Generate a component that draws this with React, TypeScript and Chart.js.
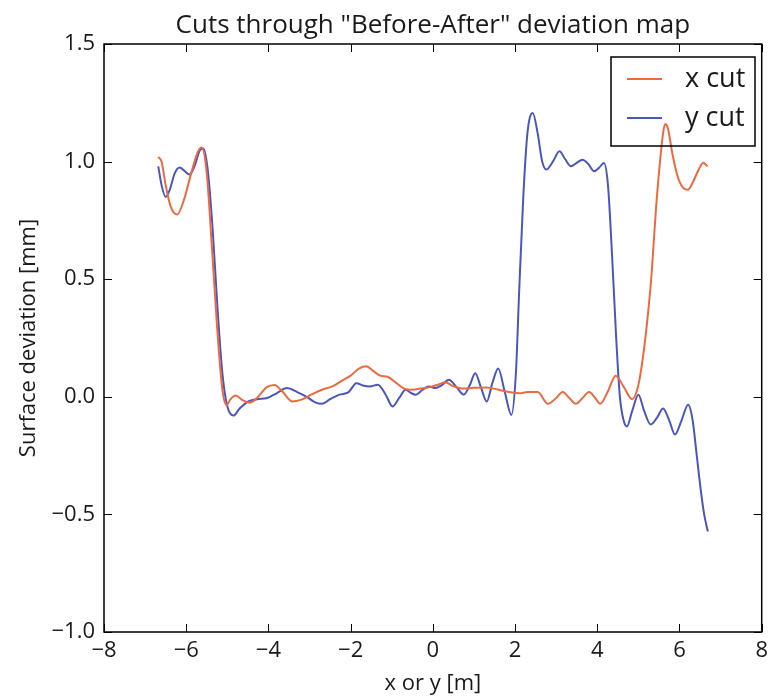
import { useEffect, useRef } from "react";
import { Chart, registerables } from "chart.js";

Chart.register(...registerables);

// Cut positions (m) and surface deviation (mm) along the x cut
const xCutPos = [
  -6.68, -6.6, -6.5, -6.38, -6.22, -6.05, -5.88, -5.72, -5.62, -5.5, -5.38, -5.25, -5.12, -5.02,
  -4.92, -4.8, -4.62, -4.45, -4.25, -4.05, -3.85, -3.65, -3.42, -3.2, -2.95, -2.7, -2.43, -2.2,
  -2.0, -1.8, -1.62, -1.45, -1.28, -1.1, -0.9, -0.7, -0.5, -0.3, -0.1, 0.1, 0.3, 0.5, 0.75, 1.0,
  1.3, 1.6, 1.85, 2.1, 2.3, 2.55, 2.8, 3.0, 3.16, 3.32, 3.48, 3.64, 3.8, 3.95, 4.07, 4.25, 4.45,
  4.65, 4.85, 5.0, 5.12, 5.22, 5.32, 5.42, 5.52, 5.6, 5.65, 5.72, 5.82, 5.95, 6.08, 6.2, 6.32,
  6.45, 6.58, 6.68,
];
const xCutDev = [
  1.02, 1.0, 0.9, 0.81, 0.775, 0.84, 0.95, 1.04, 1.06, 0.95, 0.65, 0.3, 0.03, -0.035,
  -0.01, 0.005, -0.015, -0.025, 0.0, 0.04, 0.05, 0.02, -0.02, -0.012, 0.01, 0.03, 0.045, 0.07,
  0.09, 0.12, 0.13, 0.11, 0.09, 0.085, 0.06, 0.035, 0.03, 0.035, 0.04, 0.05, 0.062, 0.045, 0.035, 0.038,
  0.04, 0.03, 0.02, 0.015, 0.02, 0.02, -0.03, -0.005, 0.02, -0.005, -0.03, -0.005, 0.02, -0.005, -0.03, 0.02, 0.09,
  0.04, -0.01, 0.05, 0.18, 0.33, 0.52, 0.78, 0.99, 1.12, 1.16, 1.14, 1.04, 0.94, 0.89, 0.88, 0.91,
  0.96, 0.995, 0.98,
];

// Cut positions (m) and surface deviation (mm) along the y cut
const yCutPos = [
  -6.68, -6.6, -6.5, -6.4, -6.28, -6.16, -6.04, -5.92, -5.8, -5.66, -5.58, -5.48, -5.36, -5.24,
  -5.12, -5.0, -4.85, -4.7, -4.5, -4.28, -4.03, -3.8, -3.55, -3.3, -3.07, -2.85, -2.7, -2.5,
  -2.27, -2.05, -1.86, -1.7, -1.54, -1.34, -1.15, -0.98, -0.82, -0.66, -0.52, -0.42, -0.25, -0.1,
  0.06, 0.22, 0.39, 0.58, 0.75, 0.9, 1.03, 1.17, 1.31, 1.45, 1.59, 1.75, 1.91, 2.02, 2.1, 2.2,
  2.3, 2.43, 2.55, 2.66, 2.76, 2.92, 3.08, 3.22, 3.36, 3.5, 3.64, 3.78, 3.92, 4.05, 4.16, 4.26,
  4.36, 4.46, 4.55, 4.64, 4.72, 4.85, 5.0, 5.14, 5.3, 5.45, 5.6, 5.75, 5.89, 6.05, 6.21, 6.32,
  6.42, 6.52, 6.6, 6.69,
];
const yCutDev = [
  0.98, 0.9, 0.85, 0.88, 0.95, 0.975, 0.96, 0.945, 0.98, 1.05, 1.055, 0.97, 0.72, 0.38,
  0.1, -0.04, -0.08, -0.05, -0.02, -0.01, -0.005, 0.015, 0.037, 0.02, 0.0, -0.025, -0.03, -0.01,
  0.009, 0.02, 0.058, 0.048, 0.044, 0.051, 0.01, -0.041, -0.005, 0.03, 0.015, 0.009, 0.03, 0.044,
  0.037, 0.05, 0.072, 0.04, 0.009, 0.05, 0.1, 0.04, -0.02, 0.06, 0.12, 0.02, -0.077, 0.1, 0.45, 0.85,
  1.12, 1.207, 1.12, 1.0, 0.966, 1.0, 1.044, 1.01, 0.98, 0.995, 1.008, 0.99, 0.959, 0.975, 0.994, 0.9,
  0.6, 0.25, 0.0, -0.1, -0.126, -0.06, 0.009, -0.06, -0.118, -0.09, -0.05, -0.1, -0.16, -0.1, -0.034, -0.1,
  -0.25, -0.4, -0.5, -0.573,
];

const seriesLabels = ["x cut", "y cut"];
const seriesColors = ["#EC6A40", "#4A56BE"];
const xTickValues = [-8, -6, -4, -2, 0, 2, 4, 6, 8];
const yTickValues = [-1.0, -0.5, 0.0, 0.5, 1.0, 1.5];
const titleText = 'Cuts through "Before-After" deviation map';
const xAxisTitle = "x or y [m]";
const yAxisTitle = "Surface deviation [mm]";

const FONT = "'Open Sans', 'DejaVu Sans', sans-serif";
const INK = "#1a1a1a";

const withMinus = (s: string) => s.replace("-", "\u2212");

// Black frame with inward ticks on all four sides, plus title and boxed legend
const framePlugin = {
  id: "frameTicksLegend",
  afterDraw(chart: any) {
    const { ctx, chartArea } = chart;
    const { left, right, top, bottom } = chartArea;
    const xs = chart.scales.x;
    const ys = chart.scales.y;
    const tick = 8;
    ctx.save();
    ctx.strokeStyle = "#000";
    ctx.lineWidth = 1.5;
    ctx.strokeRect(left, top, right - left, bottom - top);
    ctx.lineWidth = 1;
    ctx.beginPath();
    for (const v of xTickValues) {
      const px = Math.round(xs.getPixelForValue(v)) + 0.5;
      ctx.moveTo(px, bottom);
      ctx.lineTo(px, bottom - tick);
      ctx.moveTo(px, top);
      ctx.lineTo(px, top + tick);
    }
    for (const v of yTickValues) {
      const py = Math.round(ys.getPixelForValue(v)) + 0.5;
      ctx.moveTo(left, py);
      ctx.lineTo(left + tick, py);
      ctx.moveTo(right, py);
      ctx.lineTo(right - tick, py);
    }
    ctx.stroke();

    // title
    ctx.fillStyle = INK;
    ctx.font = `26px ${FONT}`;
    ctx.textAlign = "center";
    ctx.textBaseline = "alphabetic";
    ctx.fillText(titleText, (left + right) / 2, 25);

    // legend (frame only, curves stay visible through it)
    const bx = 603;
    const by = 49;
    const bw = 144;
    const bh = 89;
    ctx.strokeStyle = "#000";
    ctx.lineWidth = 1.5;
    ctx.strokeRect(bx, by, bw, bh);
    ctx.font = `27px ${FONT}`;
    ctx.textAlign = "left";
    ctx.textBaseline = "middle";
    seriesLabels.forEach((label, i) => {
      const cy = by + 22 + i * 39;
      ctx.strokeStyle = seriesColors[i];
      ctx.lineWidth = 2;
      ctx.beginPath();
      ctx.moveTo(bx + 16, cy);
      ctx.lineTo(bx + 51, cy);
      ctx.stroke();
      ctx.fillStyle = INK;
      ctx.fillText(label, bx + 74, cy);
    });
    ctx.restore();
  },
};

export default function App() {
  const canvasRef = useRef<HTMLCanvasElement | null>(null);

  useEffect(() => {
    if (!canvasRef.current) return;
    const chart = new Chart(canvasRef.current, {
      type: "line",
      data: {
        datasets: [
          {
            label: seriesLabels[0],
            data: xCutPos.map((x, i) => ({ x, y: xCutDev[i] })),
            borderColor: seriesColors[0],
            borderWidth: 2,
            pointRadius: 0,
            cubicInterpolationMode: "monotone",
            fill: false,
          },
          {
            label: seriesLabels[1],
            data: yCutPos.map((x, i) => ({ x, y: yCutDev[i] })),
            borderColor: seriesColors[1],
            borderWidth: 2,
            pointRadius: 0,
            cubicInterpolationMode: "monotone",
            fill: false,
          },
        ],
      },
      options: {
        animation: false,
        responsive: false,
        layout: { padding: { top: 36, right: 9, left: 0, bottom: 0 } },
        plugins: {
          legend: { display: false },
          title: { display: false },
          tooltip: { enabled: false },
        },
        scales: {
          x: {
            type: "linear",
            min: -8,
            max: 8,
            afterBuildTicks: (s: any) => {
              s.ticks = xTickValues.map((v) => ({ value: v }));
            },
            afterFit: (s: any) => {
              s.height = 73;
            },
            grid: { display: false, drawTicks: false },
            border: { display: false },
            ticks: {
              padding: 6,
              color: INK,
              font: { family: FONT, size: 22 },
              callback: (v: any) => withMinus(Number(v).toFixed(0)),
            },
            title: {
              display: true,
              text: xAxisTitle,
              color: INK,
              font: { family: FONT, size: 22 },
              padding: 8,
            },
          },
          y: {
            type: "linear",
            min: -1.0,
            max: 1.5,
            afterBuildTicks: (s: any) => {
              s.ticks = yTickValues.map((v) => ({ value: v }));
            },
            afterFit: (s: any) => {
              s.width = 96;
            },
            grid: { display: false, drawTicks: false },
            border: { display: false },
            ticks: {
              padding: 9,
              color: INK,
              font: { family: FONT, size: 22 },
              callback: (v: any) => withMinus(Number(v).toFixed(1)),
            },
            title: {
              display: true,
              text: yAxisTitle,
              color: INK,
              font: { family: FONT, size: 22 },
              padding: 8,
            },
          },
        },
      },
      plugins: [framePlugin],
    });
    return () => chart.destroy();
  }, []);

  return (
    <div style={{ width: 766, height: 697 }}>
      <canvas ref={canvasRef} width={766} height={697} />
    </div>
  );
}
